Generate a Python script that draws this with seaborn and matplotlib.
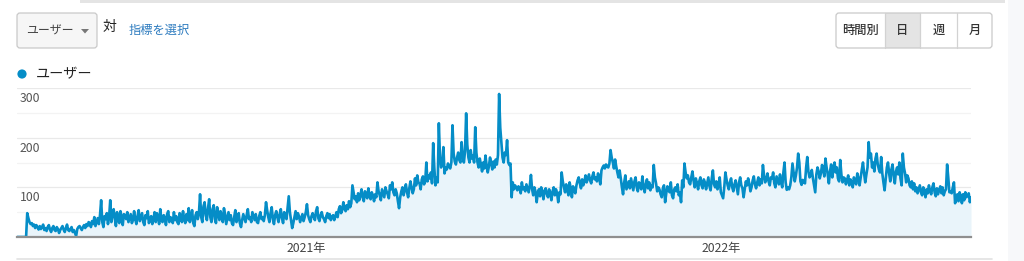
import numpy as np
import pandas as pd
import matplotlib
matplotlib.use("Agg")
import matplotlib.pyplot as plt
import matplotlib.transforms as mtransforms
from matplotlib.patches import FancyBboxPatch, Rectangle, Circle, Polygon
import seaborn as sns

# ---------------- data ----------------
start_date = "2020-04-22"
users = [
    0, 0, 0, 0, 0, 0, 0, 0, 0, 48,
    38, 30, 26, 28, 22, 25, 18, 24, 20, 15,
    22, 16, 20, 25, 14, 18, 12, 20, 24, 15,
    10, 18, 22, 14, 12, 20, 16, 8, 14, 18,
    22, 15, 10, 18, 25, 14, 12, 16, 20, 10,
    14, 8, 2, 16, 20, 22, 18, 14, 20, 24,
    18, 26, 22, 30, 28, 20, 32, 26, 40, 22,
    30, 38, 26, 44, 74, 30, 20, 42, 36, 48,
    26, 40, 74, 30, 45, 56, 38, 22, 50, 34,
    28, 52, 40, 24, 46, 44, 36, 50, 30, 38,
    46, 28, 34, 52, 36, 26, 42, 54, 32, 40,
    48, 30, 24, 44, 38, 52, 28, 34, 42, 26,
    36, 50, 30, 48, 40, 26, 56, 34, 30, 44,
    38, 24, 46, 52, 30, 40, 36, 28, 50, 34,
    42, 30, 26, 48, 44, 30, 52, 36, 28, 46,
    34, 58, 30, 40, 54, 28, 22, 44, 50, 36,
    48, 86, 40, 30, 62, 70, 44, 34, 58, 76,
    40, 30, 56, 64, 36, 28, 60, 48, 34, 52,
    42, 30, 58, 46, 26, 38, 50, 34, 44, 28,
    24, 40, 54, 30, 36, 48, 28, 20, 34, 46,
    38, 30, 44, 56, 36, 40, 30, 50, 42, 34,
    46, 30, 28, 42, 50, 36, 40, 32, 44, 70,
    54, 40, 30, 48, 60, 36, 26, 44, 52, 40,
    30, 46, 56, 38, 28, 50, 44, 36, 58, 82,
    50, 34, 18, 28, 40, 52, 36, 48, 42, 30,
    38, 46, 32, 40, 50, 66, 44, 36, 30, 42,
    48, 40, 34, 52, 60, 38, 32, 44, 50, 40,
    36, 30, 42, 48, 38, 46, 34, 40, 44, 34,
    42, 50, 40, 56, 62, 48, 54, 70, 58, 52,
    64, 56, 72, 60, 68, 104, 90, 76, 82, 70,
    88, 74, 84, 96, 80, 72, 92, 86, 78, 98,
    82, 76, 90, 84, 72, 86, 80, 110, 92, 84,
    74, 96, 88, 80, 100, 92, 86, 78, 104, 96,
    110, 90, 84, 96, 88, 72, 58, 80, 92, 100,
    84, 96, 106, 90, 80, 98, 112, 100, 88, 96,
    118, 104, 124, 110, 108, 96, 116, 122, 106, 112,
    150, 112, 124, 118, 130, 108, 189, 140, 104, 120,
    110, 229, 160, 140, 150, 181, 128, 140, 136, 148,
    142, 138, 150, 225, 168, 152, 146, 160, 170, 155,
    150, 191, 164, 150, 172, 249, 186, 160, 150, 175,
    158, 164, 150, 221, 170, 150, 140, 158, 146, 132,
    150, 138, 164, 144, 130, 142, 160, 150, 136, 152,
    140, 156, 146, 165, 288, 220, 190, 160, 150, 170,
    165, 195, 150, 145, 148, 80, 110, 96, 104, 100,
    94, 102, 98, 88, 110, 96, 100, 92, 106, 98,
    90, 104, 125, 96, 84, 100, 92, 70, 88, 96,
    82, 100, 90, 76, 94, 98, 86, 80, 96, 88,
    74, 92, 100, 84, 96, 88, 70, 90, 86, 130,
    112, 100, 90, 106, 94, 84, 110, 98, 80, 102,
    96, 88, 104, 114, 120, 108, 98, 116, 104, 112,
    124, 110, 118, 126, 114, 108, 122, 130, 116, 120,
    112, 128, 118, 106, 134, 140, 144, 138, 146, 142,
    140, 148, 175, 160, 150, 138, 156, 142, 130, 120,
    134, 118, 100, 86, 110, 124, 96, 104, 112, 98,
    118, 106, 94, 112, 120, 100, 92, 110, 104, 96,
    122, 102, 90, 106, 116, 98, 110, 94, 104, 100,
    145, 120, 108, 92, 100, 96, 86, 80, 98, 104,
    70, 88, 102, 94, 90, 110, 84, 78, 96, 100,
    92, 106, 84, 90, 70, 114, 100, 148, 130, 118,
    124, 110, 106, 120, 132, 114, 100, 118, 108, 96,
    112, 120, 104, 98, 116, 110, 96, 108, 120, 102,
    94, 118, 134, 106, 100, 112, 96, 104, 120, 90,
    84, 78, 100, 130, 116, 104, 96, 110, 118, 100,
    92, 106, 114, 100, 86, 110, 120, 104, 98, 80,
    96, 112, 104, 118, 108, 92, 100, 114, 122, 106,
    98, 110, 120, 104, 116, 108, 145, 124, 110, 116,
    128, 112, 104, 120, 118, 130, 108, 100, 122, 114,
    106, 126, 110, 100, 130, 150, 110, 95, 100, 96,
    104, 120, 148, 130, 112, 124, 140, 168, 150, 112,
    105, 115, 110, 108, 140, 161, 132, 120, 124, 135,
    118, 104, 90, 126, 140, 132, 118, 128, 145, 136,
    122, 158, 140, 126, 108, 132, 146, 120, 138, 150,
    130, 140, 118, 112, 155, 126, 110, 120, 118, 106,
    114, 124, 104, 116, 110, 100, 120, 112, 106, 128,
    118, 104, 120, 136, 150, 128, 110, 126, 140, 191,
    160, 168, 140, 150, 132, 158, 168, 146, 136, 130,
    161, 128, 110, 94, 118, 140, 150, 128, 112, 136,
    146, 122, 108, 132, 140, 126, 150, 118, 104, 168,
    140, 128, 110, 124, 118, 104, 100, 112, 96, 108,
    92, 100, 88, 96, 104, 90, 84, 100, 94, 80,
    96, 88, 104, 92, 86, 100, 108, 90, 82, 98,
    86, 94, 102, 88, 100, 84, 92, 96, 146, 120,
    90, 92, 88, 100, 110, 68, 76, 86, 72, 90,
    82, 68, 86, 74, 90, 80, 84, 88, 70, 80,
]
y_ticks = [100, 200, 300]
y_minor = [50, 150, 250]
x_tick_dates = ["2021-01-01", "2022-01-01"]
x_tick_labels = ["2021年", "2022年"]
metric_name = "ユーザー"
buttons = ["時間別", "日", "週", "月"]

dates = pd.date_range(start_date, periods=len(users), freq="D")
df = pd.DataFrame({"date": dates, "users": users})

# ---------------- style ----------------
sns.set_theme(style="white")
plt.rcParams["font.family"] = ["Noto Sans CJK JP", "DejaVu Sans"]

W, H = 1024, 261
fig = plt.figure(figsize=(W / 100, H / 100), dpi=100)
fig.patch.set_facecolor("white")

LINE = "#058dc7"
FILL = "#e9f4fa"

# overlay in pixel coords
ov = fig.add_axes([0, 0, 1, 1])
ov.set_xlim(0, W)
ov.set_ylim(H, 0)
ov.axis("off")
ov.patch.set_alpha(0)

# page decorations
ov.add_patch(Rectangle((80, 0), 925, 3, color="#e4e4e4", lw=0))
ov.add_patch(Rectangle((1008, 0), 16, H, color="#f7f8fa", lw=0))
ov.plot([17, 992], [259, 259], color="#e2e2e2", lw=1.2)

# dropdown
ov.add_patch(FancyBboxPatch((17, 13), 80, 35, boxstyle="round,pad=0,rounding_size=3",
                            fc="#f6f6f6", ec="#c9c9c9", lw=0.9))
ov.text(26, 31, metric_name, fontsize=8.6, color="#444444", va="center", ha="left")
ov.add_patch(Polygon([(81, 29), (89, 29), (85, 33.5)], closed=True, color="#777777", lw=0))
ov.text(103, 27, "対", fontsize=10, color="#222222", va="center", ha="left")
ov.text(129, 30, "指標を選択", fontsize=8.8, color="#2d7bbf", va="center", ha="left")

# button group
bx = [836, 885, 920, 957, 992]
ov.add_patch(Rectangle((bx[1], 13), bx[2] - bx[1], 35, fc="#e4e4e4", ec="none"))
ov.add_patch(FancyBboxPatch((bx[0], 13), bx[-1] - bx[0], 35, boxstyle="round,pad=0,rounding_size=3",
                            fc="none", ec="#c9c9c9", lw=0.9))
for xx in bx[1:-1]:
    ov.plot([xx, xx], [13, 48], color="#d2d2d2", lw=0.9)
for i, lab in enumerate(buttons):
    ov.text((bx[i] + bx[i + 1]) / 2, 30.5, lab, fontsize=8.8, color="#333333",
            fontweight="medium", ha="center", va="center")

# legend
ov.add_patch(Circle((22, 74), 4.6, color=LINE, lw=0))
ov.text(36, 74, metric_name, fontsize=10.2, color="#222222", va="center", ha="left")

# ---------------- main chart ----------------
left, right = 17 / W, 971 / W
bottom, top = 1 - 237 / H, 1 - 88 / H
ax = fig.add_axes([left, bottom, right - left, top - bottom])
ax.patch.set_alpha(0)

for v in y_minor:
    ax.axhline(v, color="#f3f3f3", lw=0.9, zorder=0)
for v in y_ticks:
    ax.axhline(v, color="#e9e9e9", lw=0.9, zorder=0)

ax.fill_between(df["date"], df["users"], 0, color=FILL, lw=0, zorder=1)
sns.lineplot(data=df, x="date", y="users", ax=ax, color=LINE, linewidth=1.9, zorder=3)

ax.set_xlim(dates[0], dates[-1])
ax.set_ylim(0, 300)
ax.set_xlabel("")
ax.set_ylabel("")
ax.set_yticks([])
ax.set_xticks(pd.to_datetime(x_tick_dates))
ax.set_xticklabels(x_tick_labels, fontsize=8.8, color="#444444")
ax.tick_params(axis="x", length=0, pad=3.5)

for s in ["top", "right", "left"]:
    ax.spines[s].set_visible(False)
ax.spines["bottom"].set_color("#8f8f8f")
ax.spines["bottom"].set_linewidth(1.6)
ax.spines["bottom"].set_zorder(4)

off = mtransforms.offset_copy(ax.get_yaxis_transform(), fig=fig, x=0, y=-4, units="dots")
for v in y_ticks:
    ax.text(3 / 954, v, str(v), transform=off, fontsize=8.8, color="#555555",
            ha="left", va="top")

fig.savefig("out.png", dpi=100, facecolor="white")
